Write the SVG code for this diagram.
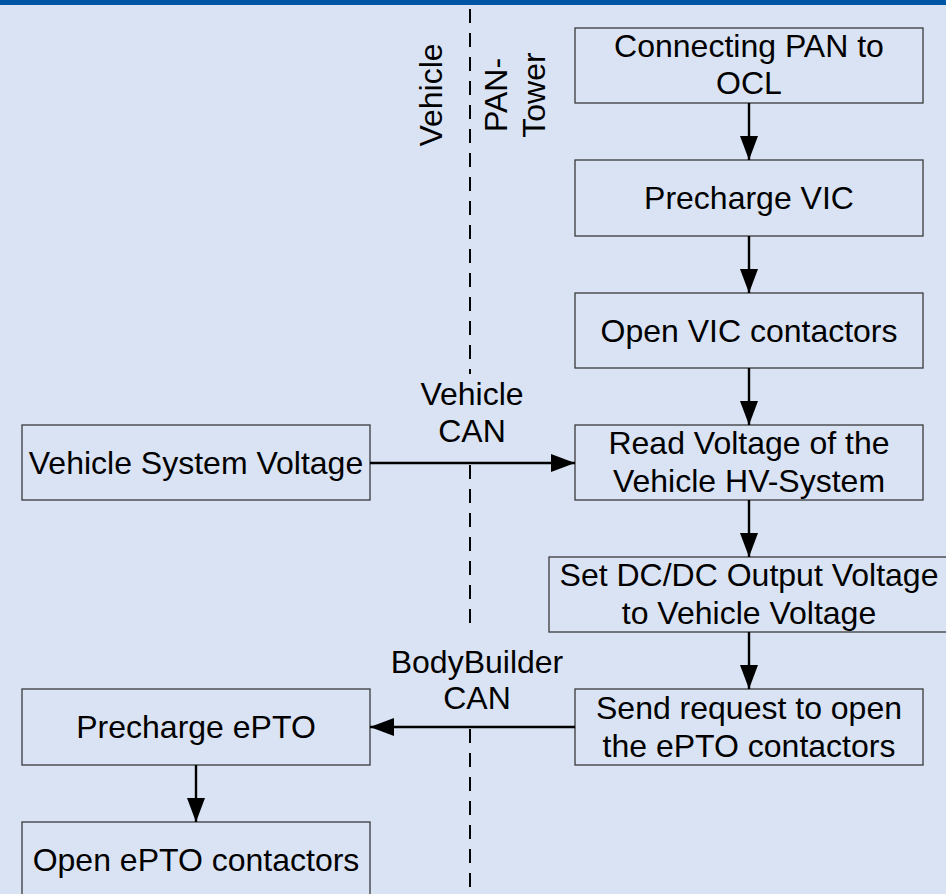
<svg xmlns="http://www.w3.org/2000/svg" width="946" height="894" viewBox="0 0 946 894">
<style>
.bg{fill:#dae3f3}
.box{fill:#dae3f3;stroke:#3a3a3a;stroke-width:1.3}
text{font-family:"Liberation Sans",Arial,sans-serif;font-size:32px;fill:#000;text-anchor:middle}
.conn{stroke:#000;stroke-width:2.4;fill:none}
.dash{stroke:#000;stroke-width:2;stroke-dasharray:14,10;fill:none}
</style>
<defs>
<marker id="ah" viewBox="0 0 24 18" refX="24" refY="9" markerWidth="24" markerHeight="18" markerUnits="userSpaceOnUse" orient="auto">
<path d="M0,0 L24,9 L0,18 Z" fill="#000"/>
</marker>
</defs>
<rect class="bg" x="0" y="0" width="946" height="894"/>
<rect x="0" y="0" width="946" height="5" fill="#0055a5"/>
<line class="dash" x1="470" y1="9" x2="470" y2="894"/>
<g id="lane-labels">
<text transform="translate(442,95) rotate(-90)">Vehicle</text>
<text transform="translate(507,95) rotate(-90)">PAN-</text>
<text transform="translate(545,95) rotate(-90)">Tower</text>
</g>
<g id="n1"><rect class="box" x="575" y="28" width="348" height="75"/><text x="749" y="57">Connecting PAN to</text><text x="749" y="94">OCL</text></g>
<g id="n2"><rect class="box" x="575" y="160" width="348" height="76"/><text x="749" y="209">Precharge VIC</text></g>
<g id="n3"><rect class="box" x="575" y="293" width="348" height="75"/><text x="749" y="342">Open VIC contactors</text></g>
<g id="n4"><rect class="box" x="575" y="425" width="348" height="75"/><text x="749" y="454">Read Voltage of the</text><text x="749" y="492">Vehicle HV-System</text></g>
<g id="n5"><rect class="box" x="549" y="557" width="400" height="75"/><text x="749" y="586">Set DC/DC Output Voltage</text><text x="749" y="624">to Vehicle Voltage</text></g>
<g id="n6"><rect class="box" x="575" y="689" width="348" height="76"/><text x="749" y="719">Send request to open</text><text x="749" y="757">the ePTO contactors</text></g>
<g id="n7"><rect class="box" x="22" y="425" width="348" height="75"/><text x="196" y="474">Vehicle System Voltage</text></g>
<g id="n8"><rect class="box" x="22" y="689" width="348" height="76"/><text x="196" y="738">Precharge ePTO</text></g>
<g id="n9"><rect class="box" x="22" y="822" width="348" height="80"/><text x="196" y="871">Open ePTO contactors</text></g>
<g id="connectors">
<rect class="bg" x="415" y="374" width="114" height="88"/>
<rect class="bg" x="385" y="633" width="184" height="93"/>
<line class="conn" x1="749" y1="103" x2="749" y2="160" marker-end="url(#ah)"/>
<line class="conn" x1="749" y1="236" x2="749" y2="293" marker-end="url(#ah)"/>
<line class="conn" x1="749" y1="368" x2="749" y2="425" marker-end="url(#ah)"/>
<line class="conn" x1="749" y1="500" x2="749" y2="557" marker-end="url(#ah)"/>
<line class="conn" x1="749" y1="632" x2="749" y2="689" marker-end="url(#ah)"/>
<line class="conn" x1="196" y1="765" x2="196" y2="822" marker-end="url(#ah)"/>
<line class="conn" x1="370" y1="463" x2="575" y2="463" marker-end="url(#ah)"/>
<line class="conn" x1="575" y1="727" x2="370" y2="727" marker-end="url(#ah)"/>
<text x="472" y="405">Vehicle</text><text x="472" y="442">CAN</text>
<text x="477" y="673">BodyBuilder</text><text x="477" y="709">CAN</text>
</g>
</svg>
